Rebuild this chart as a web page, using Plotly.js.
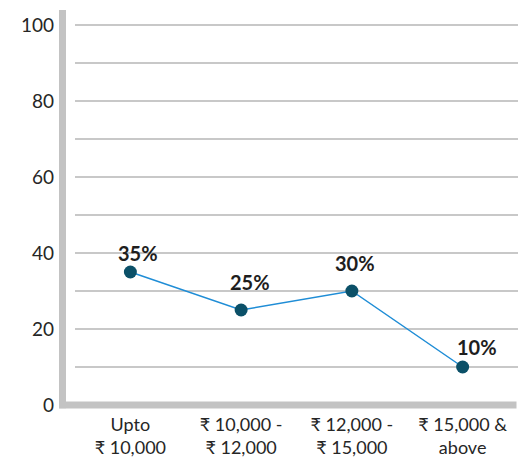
<!DOCTYPE html>
<html>
<head>
<meta charset="utf-8">
<script src="https://cdn.plot.ly/plotly-3.0.1.min.js"></script>
<style>
  html, body { margin: 0; padding: 0; background: #ffffff; }
  #chart { width: 529px; height: 459px; }
</style>
</head>
<body>
<div id="chart"></div>
<script>
const categories = ["Upto<br>₹ 10,000", "₹ 10,000 -<br>₹ 12,000", "₹ 12,000 -<br>₹ 15,000", "₹ 15,000 &<br>above"];
const shares = [35, 25, 30, 10];
const shareLabels = ["35%", "25%", "30%", "10%"];
const yTickValues = [0, 20, 40, 60, 80, 100];

// label placement offsets (pixels)
const labelXShift = [8, 9, 3, 14];
const labelYShift = [19, 28, 28, 20];

const FONT = "Lato, 'Noto Sans', 'DejaVu Sans', sans-serif";
const AXIS_GRAY = "#c3c3c3";

const trace = {
  type: "scatter",
  mode: "lines+markers",
  x: categories,
  y: shares,
  line: { color: "#1f8dd6", width: 1.5 },
  marker: { color: "#0b5068", size: 13 },
  hoverinfo: "skip",
  cliponaxis: false
};

const annotations = categories.map((c, i) => ({
  x: c,
  y: shares[i],
  xref: "x",
  yref: "y",
  text: "<b>" + shareLabels[i] + "</b>",
  showarrow: false,
  xshift: labelXShift[i],
  yshift: labelYShift[i],
  font: { family: FONT, size: 20, color: "#1e1e1e" }
}));

const layout = {
  width: 529,
  height: 459,
  margin: { l: 74.5, r: 10.5, t: 10, b: 54, pad: 0 },
  paper_bgcolor: "#ffffff",
  plot_bgcolor: "#ffffff",
  showlegend: false,
  font: { family: FONT, size: 18, color: "#262626" },
  xaxis: {
    type: "category",
    range: [-0.5, 3.5],
    showgrid: false,
    zeroline: false,
    showline: false,
    ticks: "",
    ticklabelstandoff: 7,
    tickfont: { family: FONT, size: 18, color: "#262626" },
    fixedrange: true
  },
  yaxis: {
    range: [0, 103.95],
    tickmode: "array",
    tickvals: yTickValues,
    ticktext: yTickValues.map(String),
    showgrid: true,
    gridcolor: "#c8c8c8",
    gridwidth: 2,
    minor: { dtick: 10, tick0: 0, showgrid: true, gridcolor: "#c8c8c8", gridwidth: 2, ticks: "" },
    zeroline: false,
    showline: false,
    ticks: "",
    ticklabelstandoff: 20,
    tickfont: { family: FONT, size: 19, color: "#262626" },
    fixedrange: true
  },
  shapes: [
    {
      type: "line", xref: "paper", yref: "paper",
      x0: -0.0282, x1: -0.0282, y0: -0.008, y1: 1,
      line: { color: AXIS_GRAY, width: 7 }, layer: "above"
    },
    {
      type: "line", xref: "paper", yref: "paper",
      x0: -0.036, x1: 0.9966, y0: 0, y1: 0,
      line: { color: AXIS_GRAY, width: 7 }, layer: "above"
    }
  ],
  annotations: annotations
};

Plotly.newPlot("chart", [trace], layout, { displayModeBar: false, staticPlot: true });
</script>
</body>
</html>
